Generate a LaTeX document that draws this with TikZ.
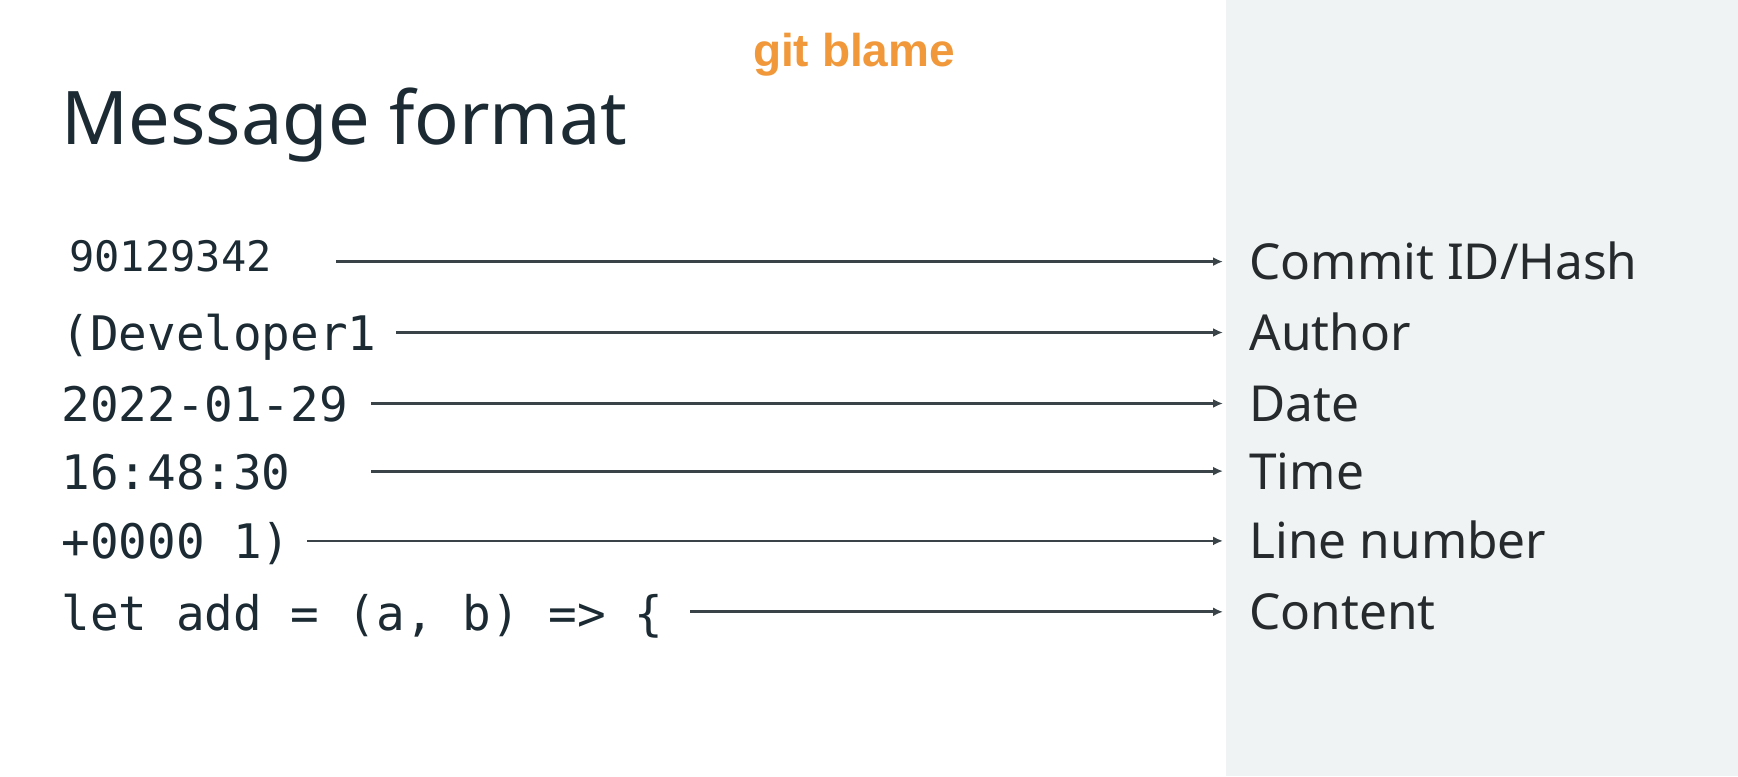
\documentclass[tikz,border=0pt]{standalone}
\usepackage{fontspec}
\setmainfont{Noto Sans}
\newfontfamily\monofont{DejaVu Sans Mono}
\newfontfamily\blamefont{Liberation Sans}
\usetikzlibrary{arrows.meta}
\definecolor{panel}{RGB}{240,243,244}
\definecolor{ink}{RGB}{28,43,51}
\definecolor{labink}{RGB}{38,42,44}
\definecolor{arrowc}{RGB}{58,68,72}
\definecolor{orangec}{RGB}{240,152,58}
\begin{document}
\begin{tikzpicture}[x=0.5pt,y=-0.5pt,
  code/.style={font=\monofont\fontsize{23.8}{28}\selectfont, text=ink, anchor=base west, inner sep=0pt},
  hashcode/.style={code, font=\monofont\fontsize{21}{25}\selectfont},
  lab/.style={font=\fontsize{24.8}{30}\selectfont, text=labink, anchor=base west, inner sep=0pt},
  arr/.style={draw=arrowc, line width=1.4pt, -{Latex[length=5pt,width=4.5pt]}, shorten >=13pt}]
\useasboundingbox (0,0) rectangle (1738,776);
\fill[white] (0,0) rectangle (1226,776);
\fill[panel] (1226,0) rectangle (1738,776);

\node[font=\blamefont\bfseries\fontsize{23}{27}\selectfont, text=orangec, anchor=base, inner sep=0pt] (gb) at (854,66) {git blame};
\node[font=\fontsize{37}{44}\selectfont, text=ink, anchor=base west, inner sep=0pt] (title) at (61,144) {Message format};

\node[hashcode] (c1) at (69,271.6) {90129342};
\node[code] (c2) at (61,350) {(Developer1};
\node[code] (c3) at (61,421) {2022-01-29};
\node[code] (c4) at (61,489) {16:48:30};
\node[code] (c5) at (61,558.5) {+0000 1)};
\node[code] (c6) at (61,630) {let add = (a, b) => \{};

\node[lab] (l1) at (1249,279.6) {Commit ID/Hash};
\node[lab] (l2) at (1249,350.5) {Author};
\node[lab] (l3) at (1249,421.5) {Date};
\node[lab] (l4) at (1249,489) {Time};
\node[lab] (l5) at (1249,558.9) {Line number};
\node[lab] (l6) at (1249,629.8) {Content};

\coordinate (s1) at (336,261.6);
\coordinate (s2) at (396,332.5);
\coordinate (s3) at (371,403.5);
\coordinate (s4) at (371,471.1);
\coordinate (s5) at (307,540.9);
\coordinate (s6) at (690,611.8);

\foreach \i in {1,...,6} {
  \draw[arr] (s\i) -- (s\i -| l\i.west);
}
\end{tikzpicture}
\end{document}
